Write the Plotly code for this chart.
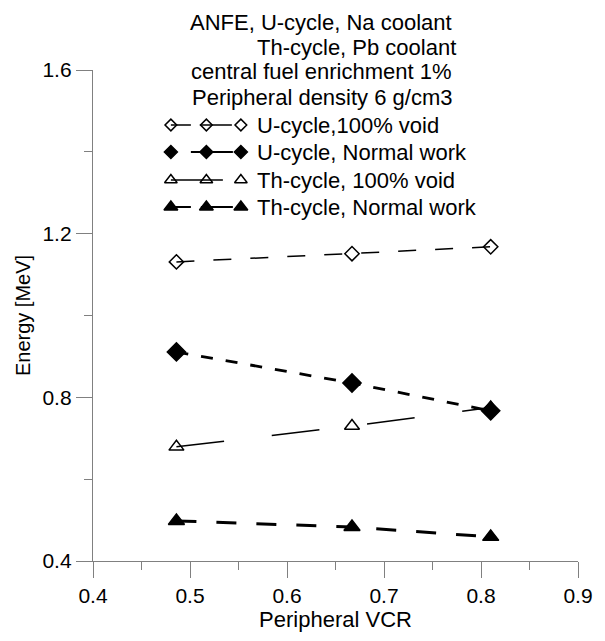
import plotly.graph_objects as go

vcr = [0.486, 0.667, 0.81]
u_void = [1.131, 1.151, 1.168]
u_normal = [0.911, 0.835, 0.767]
th_void = [0.679, 0.730, 0.775]
th_normal = [0.498, 0.483, 0.459]

names = ["U-cycle,100% void", "U-cycle, Normal work", "Th-cycle, 100% void", "Th-cycle, Normal work"]
title_lines = ["ANFE, U-cycle, Na coolant", "Th-cycle, Pb coolant",
               "central fuel enrichment 1%", "Peripheral density 6 g/cm3"]

FONT = "Liberation Sans, Arial, sans-serif"

# layout (pixel) positions for the drawn legend and header
PLOT_L, PLOT_R, PLOT_T, PLOT_B = 93, 585, 70, 561
title_px = [(324.5, 22), (360, 48), (324, 72), (325, 97)]
legend_rows_px = [125, 152, 180, 207]
legend_glyph_px = [172, 208, 243]
legend_text_px = 257

styles = [
    dict(sym="diamond-open", dash="18px,19px", w=1.5, ms=11, lms=9, gdash="20px,9px,32px,60px"),
    dict(sym="diamond", dash="12px,13px", w=2.8, ms=14, lms=10, gdash="0px,20px,42px,60px"),
    dict(sym="triangle-up-open", dash="48px,48px", w=1.5, ms=13, lms=11, gdash="52px,60px"),
    dict(sym="triangle-up", dash="20px,20px", w=3, ms=14, lms=12, gdash="20px,10px,32px,60px"),
]

fig = go.Figure()
for ys, st, nm in zip([u_void, u_normal, th_void, th_normal], styles, names):
    fig.add_trace(go.Scatter(
        x=vcr, y=ys, name=nm, mode="lines+markers", showlegend=False,
        line=dict(color="black", width=st["w"], dash=st["dash"]),
        marker=dict(symbol=st["sym"], size=st["ms"], color="black",
                    line=dict(color="black", width=1.5)),
    ))

# hand-drawn legend on a pixel overlay axis
for row, st, nm in zip(legend_rows_px, styles, names):
    fig.add_trace(go.Scatter(
        x=legend_glyph_px, y=[row] * len(legend_glyph_px), xaxis="x2", yaxis="y2",
        mode="lines+markers", showlegend=False, hoverinfo="skip",
        line=dict(color="black", width=min(st["w"], 2.2), dash=st["gdash"]),
        marker=dict(symbol=st["sym"], size=st["lms"], color="black",
                    line=dict(color="black", width=1.5)),
    ))
    fig.add_annotation(
        text=nm, xref="x2", yref="y2", x=legend_text_px, y=row,
        xanchor="left", yanchor="middle", showarrow=False,
        font=dict(size=22, color="black", family=FONT),
    )

for t, (px, py) in zip(title_lines, title_px):
    fig.add_annotation(
        text=t, xref="paper", yref="paper",
        x=(px - PLOT_L) / (PLOT_R - PLOT_L), y=(PLOT_B - py) / (PLOT_B - PLOT_T),
        xanchor="center", yanchor="middle", showarrow=False,
        font=dict(size=22, color="black", family=FONT),
    )

axis_common = dict(
    showgrid=False, zeroline=False, showline=True, linecolor="#808080", linewidth=1.3,
    ticks="outside", ticklen=16, tickcolor="#808080", tickwidth=1.3,
    tickfont=dict(size=21, color="black", family=FONT),
)
fig.update_xaxes(range=[0.4, 0.9], dtick=0.1, tick0=0.4, tickformat=".1f",
                 title=dict(text="Peripheral VCR", font=dict(size=22, color="black", family=FONT), standoff=4),
                 minor=dict(ticks="outside", ticklen=8, dtick=0.05, tickcolor="#808080", tickwidth=1.3),
                 **axis_common)
fig.update_yaxes(range=[0.4, 1.6], dtick=0.4, tick0=0.4, tickformat=".1f",
                 title=dict(text="Energy [MeV]", font=dict(size=20, color="black", family=FONT), standoff=6),
                 minor=dict(ticks="outside", ticklen=8, dtick=0.2, tickcolor="#808080", tickwidth=1.3),
                 **axis_common)

fig.update_layout(
    width=605, height=641, margin=dict(l=PLOT_L, r=605 - PLOT_R, t=PLOT_T, b=641 - PLOT_B),
    plot_bgcolor="white", paper_bgcolor="white",
    font=dict(family=FONT, color="black"),
    xaxis2=dict(overlaying="x", range=[PLOT_L, PLOT_R], visible=False, fixedrange=True),
    yaxis2=dict(overlaying="y", range=[PLOT_B, PLOT_T], visible=False, fixedrange=True),
    showlegend=False,
)

fig.write_html("out.html")
